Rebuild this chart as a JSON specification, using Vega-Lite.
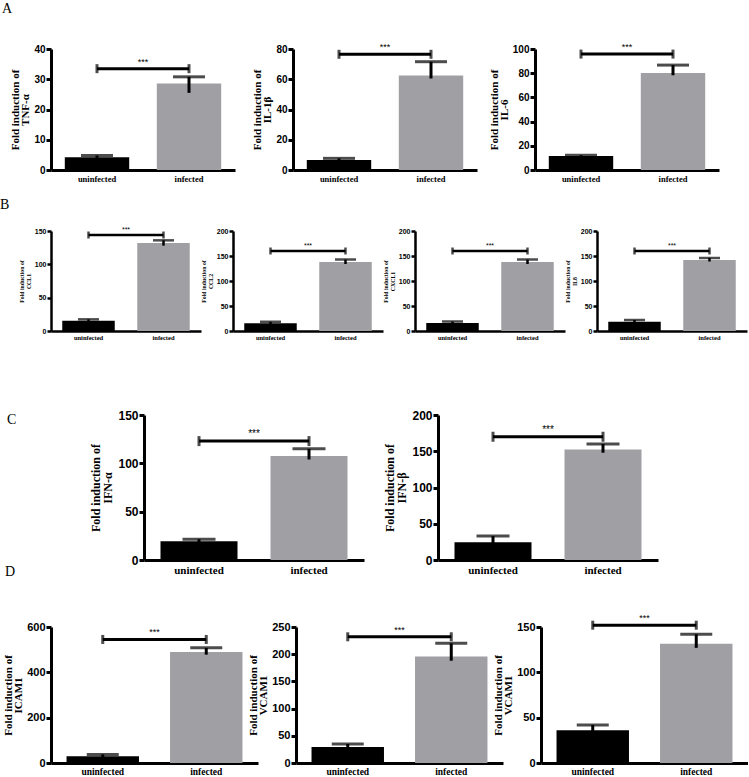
{
"$schema": "https://vega.github.io/schema/vega-lite/v6.json",
"padding": {"left": 0, "top": 2, "right": 0, "bottom": 0},
"background": "white",
"config": {
  "view": {"stroke": null},
  "axis": {"grid": false, "labelOverlap": false, "domainColor": "#000", "tickColor": "#000", "labelColor": "#000", "titleColor": "#000", "labelFontWeight": "bold", "titleFontWeight": "bold", "titleFont": "Liberation Serif"},
  "axisX": {"labelFont": "Liberation Serif", "labelAngle": 0, "ticks": false, "tickSize": 0, "labelPadding": 4, "domainWidth": 3},
  "axisY": {"labelFont": "Liberation Sans", "tickWidth": 3, "tickSize": 5, "domainWidth": 3, "labelPadding": 1, "titlePadding": 3, "labelOverlap": false, "labelFlush": false},
  "title": {"font": "Liberation Serif", "fontWeight": "normal", "fontSize": 14, "anchor": "start", "frame": "group", "color": "#000"}
},
"spacing": 68,
"vconcat": [
 {"spacing": 15, "vconcat": [
  {"hconcat": [
   {"width": 184, "height": 121, "title": {"text": "A", "dx": -49, "offset": 28},
    "data": {"values": [{"g": "uninfected", "v": 4.2, "lo": 3.6, "hi": 4.8}, {"g": "infected", "v": 28.6, "lo": 25.5, "hi": 30.8}]},
    "layer": [
     {"mark": {"type": "bar"}, "encoding": {
       "x": {"field": "g", "type": "nominal", "scale": {"domain": ["uninfected", "infected"], "paddingInner": 0.3, "paddingOuter": 0.15}, "axis": {"title": null, "labelFontSize": 8.5}},
       "y": {"field": "v", "type": "quantitative", "scale": {"domain": [0, 40], "nice": false}, "axis": {"values": [0, 10, 20, 30, 40], "tickCount": 20, "title": ["Fold induction of", "TNF-α"], "labelFontSize": 10, "titleFontSize": 11, "titleLineHeight": 10}},
       "color": {"field": "g", "type": "nominal", "scale": {"domain": ["uninfected", "infected"], "range": ["#000000", "#a0a0a4"]}, "legend": null}}},
     {"mark": {"type": "rule", "strokeWidth": 3, "color": "#000"}, "encoding": {"x": {"field": "g", "type": "nominal"}, "y": {"field": "lo", "type": "quantitative"}, "y2": {"field": "hi"}}},
     {"mark": {"type": "tick", "orient": "horizontal", "thickness": 3, "size": 32, "color": "#000"}, "encoding": {"x": {"field": "g", "type": "nominal"}, "y": {"field": "hi", "type": "quantitative"}}},
     {"data": {"values": [{"a": "uninfected", "b": "infected", "s": 33.5, "t": "***"}]}, "layer": [
       {"mark": {"type": "rule", "strokeWidth": 3, "color": "#000"}, "encoding": {"x": {"field": "a", "type": "nominal"}, "x2": {"field": "b"}, "y": {"field": "s", "type": "quantitative"}}},
       {"mark": {"type": "tick", "orient": "vertical", "thickness": 3, "size": 9, "color": "#000"}, "encoding": {"x": {"field": "a", "type": "nominal"}, "y": {"field": "s", "type": "quantitative"}}},
       {"mark": {"type": "tick", "orient": "vertical", "thickness": 3, "size": 9, "color": "#000"}, "encoding": {"x": {"field": "b", "type": "nominal"}, "y": {"field": "s", "type": "quantitative"}}},
       {"mark": {"type": "text", "font": "Liberation Sans", "fontSize": 9, "baseline": "bottom", "dy": -2, "color": "#000"}, "encoding": {"x": {"field": "a", "type": "nominal", "bandPosition": 1.2143}, "y": {"field": "s", "type": "quantitative"}, "text": {"field": "t"}}}
     ]}
    ]},
   {"width": 184, "height": 121,
    "data": {"values": [{"g": "uninfected", "v": 6.6, "lo": 5.5, "hi": 7.7}, {"g": "infected", "v": 62.5, "lo": 60.5, "hi": 71.6}]},
    "layer": [
     {"mark": {"type": "bar"}, "encoding": {
       "x": {"field": "g", "type": "nominal", "scale": {"domain": ["uninfected", "infected"], "paddingInner": 0.3, "paddingOuter": 0.15}, "axis": {"title": null, "labelFontSize": 8.5}},
       "y": {"field": "v", "type": "quantitative", "scale": {"domain": [0, 80], "nice": false}, "axis": {"values": [0, 20, 40, 60, 80], "tickCount": 20, "title": ["Fold induction of", "IL-1β"], "labelFontSize": 10, "titleFontSize": 11, "titleLineHeight": 10}},
       "color": {"field": "g", "type": "nominal", "scale": {"domain": ["uninfected", "infected"], "range": ["#000000", "#a0a0a4"]}, "legend": null}}},
     {"mark": {"type": "rule", "strokeWidth": 3, "color": "#000"}, "encoding": {"x": {"field": "g", "type": "nominal"}, "y": {"field": "lo", "type": "quantitative"}, "y2": {"field": "hi"}}},
     {"mark": {"type": "tick", "orient": "horizontal", "thickness": 3, "size": 32, "color": "#000"}, "encoding": {"x": {"field": "g", "type": "nominal"}, "y": {"field": "hi", "type": "quantitative"}}},
     {"data": {"values": [{"a": "uninfected", "b": "infected", "s": 76.5, "t": "***"}]}, "layer": [
       {"mark": {"type": "rule", "strokeWidth": 3, "color": "#000"}, "encoding": {"x": {"field": "a", "type": "nominal"}, "x2": {"field": "b"}, "y": {"field": "s", "type": "quantitative"}}},
       {"mark": {"type": "tick", "orient": "vertical", "thickness": 3, "size": 9, "color": "#000"}, "encoding": {"x": {"field": "a", "type": "nominal"}, "y": {"field": "s", "type": "quantitative"}}},
       {"mark": {"type": "tick", "orient": "vertical", "thickness": 3, "size": 9, "color": "#000"}, "encoding": {"x": {"field": "b", "type": "nominal"}, "y": {"field": "s", "type": "quantitative"}}},
       {"mark": {"type": "text", "font": "Liberation Sans", "fontSize": 9, "baseline": "bottom", "dy": -2, "color": "#000"}, "encoding": {"x": {"field": "a", "type": "nominal", "bandPosition": 1.2143}, "y": {"field": "s", "type": "quantitative"}, "text": {"field": "t"}}}
     ]}
    ]},
   {"width": 184, "height": 121,
    "data": {"values": [{"g": "uninfected", "v": 11.5, "lo": 10.8, "hi": 12.2}, {"g": "infected", "v": 80.2, "lo": 78.3, "hi": 86.7}]},
    "layer": [
     {"mark": {"type": "bar"}, "encoding": {
       "x": {"field": "g", "type": "nominal", "scale": {"domain": ["uninfected", "infected"], "paddingInner": 0.3, "paddingOuter": 0.15}, "axis": {"title": null, "labelFontSize": 8.5}},
       "y": {"field": "v", "type": "quantitative", "scale": {"domain": [0, 100], "nice": false}, "axis": {"values": [0, 20, 40, 60, 80, 100], "tickCount": 20, "title": ["Fold induction of", "IL-6"], "labelFontSize": 10, "titleFontSize": 11, "titleLineHeight": 10}},
       "color": {"field": "g", "type": "nominal", "scale": {"domain": ["uninfected", "infected"], "range": ["#000000", "#a0a0a4"]}, "legend": null}}},
     {"mark": {"type": "rule", "strokeWidth": 3, "color": "#000"}, "encoding": {"x": {"field": "g", "type": "nominal"}, "y": {"field": "lo", "type": "quantitative"}, "y2": {"field": "hi"}}},
     {"mark": {"type": "tick", "orient": "horizontal", "thickness": 3, "size": 32, "color": "#000"}, "encoding": {"x": {"field": "g", "type": "nominal"}, "y": {"field": "hi", "type": "quantitative"}}},
     {"data": {"values": [{"a": "uninfected", "b": "infected", "s": 95.8, "t": "***"}]}, "layer": [
       {"mark": {"type": "rule", "strokeWidth": 3, "color": "#000"}, "encoding": {"x": {"field": "a", "type": "nominal"}, "x2": {"field": "b"}, "y": {"field": "s", "type": "quantitative"}}},
       {"mark": {"type": "tick", "orient": "vertical", "thickness": 3, "size": 9, "color": "#000"}, "encoding": {"x": {"field": "a", "type": "nominal"}, "y": {"field": "s", "type": "quantitative"}}},
       {"mark": {"type": "tick", "orient": "vertical", "thickness": 3, "size": 9, "color": "#000"}, "encoding": {"x": {"field": "b", "type": "nominal"}, "y": {"field": "s", "type": "quantitative"}}},
       {"mark": {"type": "text", "font": "Liberation Sans", "fontSize": 9, "baseline": "bottom", "dy": -2, "color": "#000"}, "encoding": {"x": {"field": "a", "type": "nominal", "bandPosition": 1.2143}, "y": {"field": "s", "type": "quantitative"}, "text": {"field": "t"}}}
     ]}
    ]}
  ], "spacing": 58, "bounds": "flush"},
  {"hconcat": [
   {"width": 150, "height": 100, "title": {"text": "B", "dx": -51, "offset": 14},
    "data": {"values": [{"g": "uninfected", "v": 15.5, "lo": 14, "hi": 17.5}, {"g": "infected", "v": 132, "lo": 128, "hi": 136}]},
    "layer": [
     {"mark": {"type": "bar"}, "encoding": {
       "x": {"field": "g", "type": "nominal", "scale": {"domain": ["uninfected", "infected"], "paddingInner": 0.3, "paddingOuter": 0.15}, "axis": {"title": null, "labelFontSize": 6.5, "domainWidth": 2.5, "labelPadding": 3}},
       "y": {"field": "v", "type": "quantitative", "scale": {"domain": [0, 150], "nice": false}, "axis": {"values": [0, 50, 100, 150], "tickCount": 20, "title": ["Fold induction of", "CCL1"], "labelFontSize": 7, "titleFontSize": 5.8, "titleLineHeight": 6.5, "domainWidth": 2.5, "tickWidth": 2.5, "tickSize": 4}},
       "color": {"field": "g", "type": "nominal", "scale": {"domain": ["uninfected", "infected"], "range": ["#000000", "#a0a0a4"]}, "legend": null}}},
     {"mark": {"type": "rule", "strokeWidth": 2.5, "color": "#000"}, "encoding": {"x": {"field": "g", "type": "nominal"}, "y": {"field": "lo", "type": "quantitative"}, "y2": {"field": "hi"}}},
     {"mark": {"type": "tick", "orient": "horizontal", "thickness": 2.5, "size": 21, "color": "#000"}, "encoding": {"x": {"field": "g", "type": "nominal"}, "y": {"field": "hi", "type": "quantitative"}}},
     {"data": {"values": [{"a": "uninfected", "b": "infected", "s": 144, "t": "***"}]}, "layer": [
       {"mark": {"type": "rule", "strokeWidth": 2.5, "color": "#000"}, "encoding": {"x": {"field": "a", "type": "nominal"}, "x2": {"field": "b"}, "y": {"field": "s", "type": "quantitative"}}},
       {"mark": {"type": "tick", "orient": "vertical", "thickness": 2.5, "size": 7, "color": "#000"}, "encoding": {"x": {"field": "a", "type": "nominal"}, "y": {"field": "s", "type": "quantitative"}}},
       {"mark": {"type": "tick", "orient": "vertical", "thickness": 2.5, "size": 7, "color": "#000"}, "encoding": {"x": {"field": "b", "type": "nominal"}, "y": {"field": "s", "type": "quantitative"}}},
       {"mark": {"type": "text", "font": "Liberation Sans", "fontSize": 7, "baseline": "bottom", "dy": -2, "color": "#000"}, "encoding": {"x": {"field": "a", "type": "nominal", "bandPosition": 1.2143}, "y": {"field": "s", "type": "quantitative"}, "text": {"field": "t"}}}
     ]}
    ]},
   {"width": 150, "height": 100,
    "data": {"values": [{"g": "uninfected", "v": 15.5, "lo": 14, "hi": 18.5}, {"g": "infected", "v": 138, "lo": 134, "hi": 143}]},
    "layer": [
     {"mark": {"type": "bar"}, "encoding": {
       "x": {"field": "g", "type": "nominal", "scale": {"domain": ["uninfected", "infected"], "paddingInner": 0.3, "paddingOuter": 0.15}, "axis": {"title": null, "labelFontSize": 6.5, "domainWidth": 2.5, "labelPadding": 3}},
       "y": {"field": "v", "type": "quantitative", "scale": {"domain": [0, 200], "nice": false}, "axis": {"values": [0, 50, 100, 150, 200], "tickCount": 20, "title": ["Fold induction of", "CCL2"], "labelFontSize": 7, "titleFontSize": 5.8, "titleLineHeight": 6.5, "domainWidth": 2.5, "tickWidth": 2.5, "tickSize": 4}},
       "color": {"field": "g", "type": "nominal", "scale": {"domain": ["uninfected", "infected"], "range": ["#000000", "#a0a0a4"]}, "legend": null}}},
     {"mark": {"type": "rule", "strokeWidth": 2.5, "color": "#000"}, "encoding": {"x": {"field": "g", "type": "nominal"}, "y": {"field": "lo", "type": "quantitative"}, "y2": {"field": "hi"}}},
     {"mark": {"type": "tick", "orient": "horizontal", "thickness": 2.5, "size": 21, "color": "#000"}, "encoding": {"x": {"field": "g", "type": "nominal"}, "y": {"field": "hi", "type": "quantitative"}}},
     {"data": {"values": [{"a": "uninfected", "b": "infected", "s": 160, "t": "***"}]}, "layer": [
       {"mark": {"type": "rule", "strokeWidth": 2.5, "color": "#000"}, "encoding": {"x": {"field": "a", "type": "nominal"}, "x2": {"field": "b"}, "y": {"field": "s", "type": "quantitative"}}},
       {"mark": {"type": "tick", "orient": "vertical", "thickness": 2.5, "size": 7, "color": "#000"}, "encoding": {"x": {"field": "a", "type": "nominal"}, "y": {"field": "s", "type": "quantitative"}}},
       {"mark": {"type": "tick", "orient": "vertical", "thickness": 2.5, "size": 7, "color": "#000"}, "encoding": {"x": {"field": "b", "type": "nominal"}, "y": {"field": "s", "type": "quantitative"}}},
       {"mark": {"type": "text", "font": "Liberation Sans", "fontSize": 7, "baseline": "bottom", "dy": -2, "color": "#000"}, "encoding": {"x": {"field": "a", "type": "nominal", "bandPosition": 1.2143}, "y": {"field": "s", "type": "quantitative"}, "text": {"field": "t"}}}
     ]}
    ]},
   {"width": 150, "height": 100,
    "data": {"values": [{"g": "uninfected", "v": 16, "lo": 14.5, "hi": 19}, {"g": "infected", "v": 138, "lo": 134, "hi": 143}]},
    "layer": [
     {"mark": {"type": "bar"}, "encoding": {
       "x": {"field": "g", "type": "nominal", "scale": {"domain": ["uninfected", "infected"], "paddingInner": 0.3, "paddingOuter": 0.15}, "axis": {"title": null, "labelFontSize": 6.5, "domainWidth": 2.5, "labelPadding": 3}},
       "y": {"field": "v", "type": "quantitative", "scale": {"domain": [0, 200], "nice": false}, "axis": {"values": [0, 50, 100, 150, 200], "tickCount": 20, "title": ["Fold induction of", "CXCL1"], "labelFontSize": 7, "titleFontSize": 5.8, "titleLineHeight": 6.5, "domainWidth": 2.5, "tickWidth": 2.5, "tickSize": 4}},
       "color": {"field": "g", "type": "nominal", "scale": {"domain": ["uninfected", "infected"], "range": ["#000000", "#a0a0a4"]}, "legend": null}}},
     {"mark": {"type": "rule", "strokeWidth": 2.5, "color": "#000"}, "encoding": {"x": {"field": "g", "type": "nominal"}, "y": {"field": "lo", "type": "quantitative"}, "y2": {"field": "hi"}}},
     {"mark": {"type": "tick", "orient": "horizontal", "thickness": 2.5, "size": 21, "color": "#000"}, "encoding": {"x": {"field": "g", "type": "nominal"}, "y": {"field": "hi", "type": "quantitative"}}},
     {"data": {"values": [{"a": "uninfected", "b": "infected", "s": 160, "t": "***"}]}, "layer": [
       {"mark": {"type": "rule", "strokeWidth": 2.5, "color": "#000"}, "encoding": {"x": {"field": "a", "type": "nominal"}, "x2": {"field": "b"}, "y": {"field": "s", "type": "quantitative"}}},
       {"mark": {"type": "tick", "orient": "vertical", "thickness": 2.5, "size": 7, "color": "#000"}, "encoding": {"x": {"field": "a", "type": "nominal"}, "y": {"field": "s", "type": "quantitative"}}},
       {"mark": {"type": "tick", "orient": "vertical", "thickness": 2.5, "size": 7, "color": "#000"}, "encoding": {"x": {"field": "b", "type": "nominal"}, "y": {"field": "s", "type": "quantitative"}}},
       {"mark": {"type": "text", "font": "Liberation Sans", "fontSize": 7, "baseline": "bottom", "dy": -2, "color": "#000"}, "encoding": {"x": {"field": "a", "type": "nominal", "bandPosition": 1.2143}, "y": {"field": "s", "type": "quantitative"}, "text": {"field": "t"}}}
     ]}
    ]},
   {"width": 150, "height": 100,
    "data": {"values": [{"g": "uninfected", "v": 18.5, "lo": 16, "hi": 22}, {"g": "infected", "v": 142, "lo": 139, "hi": 146}]},
    "layer": [
     {"mark": {"type": "bar"}, "encoding": {
       "x": {"field": "g", "type": "nominal", "scale": {"domain": ["uninfected", "infected"], "paddingInner": 0.3, "paddingOuter": 0.15}, "axis": {"title": null, "labelFontSize": 6.5, "domainWidth": 2.5, "labelPadding": 3}},
       "y": {"field": "v", "type": "quantitative", "scale": {"domain": [0, 200], "nice": false}, "axis": {"values": [0, 50, 100, 150, 200], "tickCount": 20, "title": ["Fold induction of", "IL8"], "labelFontSize": 7, "titleFontSize": 5.8, "titleLineHeight": 6.5, "domainWidth": 2.5, "tickWidth": 2.5, "tickSize": 4}},
       "color": {"field": "g", "type": "nominal", "scale": {"domain": ["uninfected", "infected"], "range": ["#000000", "#a0a0a4"]}, "legend": null}}},
     {"mark": {"type": "rule", "strokeWidth": 2.5, "color": "#000"}, "encoding": {"x": {"field": "g", "type": "nominal"}, "y": {"field": "lo", "type": "quantitative"}, "y2": {"field": "hi"}}},
     {"mark": {"type": "tick", "orient": "horizontal", "thickness": 2.5, "size": 21, "color": "#000"}, "encoding": {"x": {"field": "g", "type": "nominal"}, "y": {"field": "hi", "type": "quantitative"}}},
     {"data": {"values": [{"a": "uninfected", "b": "infected", "s": 160, "t": "***"}]}, "layer": [
       {"mark": {"type": "rule", "strokeWidth": 2.5, "color": "#000"}, "encoding": {"x": {"field": "a", "type": "nominal"}, "x2": {"field": "b"}, "y": {"field": "s", "type": "quantitative"}}},
       {"mark": {"type": "tick", "orient": "vertical", "thickness": 2.5, "size": 7, "color": "#000"}, "encoding": {"x": {"field": "a", "type": "nominal"}, "y": {"field": "s", "type": "quantitative"}}},
       {"mark": {"type": "tick", "orient": "vertical", "thickness": 2.5, "size": 7, "color": "#000"}, "encoding": {"x": {"field": "b", "type": "nominal"}, "y": {"field": "s", "type": "quantitative"}}},
       {"mark": {"type": "text", "font": "Liberation Sans", "fontSize": 7, "baseline": "bottom", "dy": -2, "color": "#000"}, "encoding": {"x": {"field": "a", "type": "nominal", "bandPosition": 1.2143}, "y": {"field": "s", "type": "quantitative"}, "text": {"field": "t"}}}
     ]}
    ]}
  ], "spacing": 32, "bounds": "flush"}
 ]},
 {"spacing": -10, "vconcat": [
  {"hconcat": [
   {"width": 19, "height": 145, "data": {"values": [{}]}, "mark": {"type": "text"}, "encoding": {}},
   {"width": 220, "height": 145, "title": {"text": "C", "dx": -137, "offset": -18},
    "data": {"values": [{"g": "uninfected", "v": 19.5, "lo": 18, "hi": 21.5}, {"g": "infected", "v": 107.5, "lo": 104, "hi": 115}]},
    "layer": [
     {"mark": {"type": "bar"}, "encoding": {
       "x": {"field": "g", "type": "nominal", "scale": {"domain": ["uninfected", "infected"], "paddingInner": 0.3, "paddingOuter": 0.15}, "axis": {"title": null, "labelFontSize": 11}},
       "y": {"field": "v", "type": "quantitative", "scale": {"domain": [0, 150], "nice": false}, "axis": {"values": [0, 50, 100, 150], "tickCount": 20, "title": ["Fold induction of", "IFN-α"], "labelFontSize": 12, "titleFontSize": 12, "titleLineHeight": 12.5}},
       "color": {"field": "g", "type": "nominal", "scale": {"domain": ["uninfected", "infected"], "range": ["#000000", "#a0a0a4"]}, "legend": null}}},
     {"mark": {"type": "rule", "strokeWidth": 3, "color": "#000"}, "encoding": {"x": {"field": "g", "type": "nominal"}, "y": {"field": "lo", "type": "quantitative"}, "y2": {"field": "hi"}}},
     {"mark": {"type": "tick", "orient": "horizontal", "thickness": 3, "size": 33, "color": "#000"}, "encoding": {"x": {"field": "g", "type": "nominal"}, "y": {"field": "hi", "type": "quantitative"}}},
     {"data": {"values": [{"a": "uninfected", "b": "infected", "s": 123, "t": "***"}]}, "layer": [
       {"mark": {"type": "rule", "strokeWidth": 3, "color": "#000"}, "encoding": {"x": {"field": "a", "type": "nominal"}, "x2": {"field": "b"}, "y": {"field": "s", "type": "quantitative"}}},
       {"mark": {"type": "tick", "orient": "vertical", "thickness": 3, "size": 10, "color": "#000"}, "encoding": {"x": {"field": "a", "type": "nominal"}, "y": {"field": "s", "type": "quantitative"}}},
       {"mark": {"type": "tick", "orient": "vertical", "thickness": 3, "size": 10, "color": "#000"}, "encoding": {"x": {"field": "b", "type": "nominal"}, "y": {"field": "s", "type": "quantitative"}}},
       {"mark": {"type": "text", "font": "Liberation Sans", "fontSize": 10, "baseline": "bottom", "dy": -2, "color": "#000"}, "encoding": {"x": {"field": "a", "type": "nominal", "bandPosition": 1.2143}, "y": {"field": "s", "type": "quantitative"}, "text": {"field": "t"}}}
     ]}
    ]},
   {"width": 220, "height": 145,
    "data": {"values": [{"g": "uninfected", "v": 24.5, "lo": 21, "hi": 33}, {"g": "infected", "v": 152.5, "lo": 148, "hi": 160}]},
    "layer": [
     {"mark": {"type": "bar"}, "encoding": {
       "x": {"field": "g", "type": "nominal", "scale": {"domain": ["uninfected", "infected"], "paddingInner": 0.3, "paddingOuter": 0.15}, "axis": {"title": null, "labelFontSize": 11}},
       "y": {"field": "v", "type": "quantitative", "scale": {"domain": [0, 200], "nice": false}, "axis": {"values": [0, 50, 100, 150, 200], "tickCount": 20, "title": ["Fold induction of", "IFN-β"], "labelFontSize": 12, "titleFontSize": 12, "titleLineHeight": 12.5}},
       "color": {"field": "g", "type": "nominal", "scale": {"domain": ["uninfected", "infected"], "range": ["#000000", "#a0a0a4"]}, "legend": null}}},
     {"mark": {"type": "rule", "strokeWidth": 3, "color": "#000"}, "encoding": {"x": {"field": "g", "type": "nominal"}, "y": {"field": "lo", "type": "quantitative"}, "y2": {"field": "hi"}}},
     {"mark": {"type": "tick", "orient": "horizontal", "thickness": 3, "size": 33, "color": "#000"}, "encoding": {"x": {"field": "g", "type": "nominal"}, "y": {"field": "hi", "type": "quantitative"}}},
     {"data": {"values": [{"a": "uninfected", "b": "infected", "s": 170, "t": "***"}]}, "layer": [
       {"mark": {"type": "rule", "strokeWidth": 3, "color": "#000"}, "encoding": {"x": {"field": "a", "type": "nominal"}, "x2": {"field": "b"}, "y": {"field": "s", "type": "quantitative"}}},
       {"mark": {"type": "tick", "orient": "vertical", "thickness": 3, "size": 10, "color": "#000"}, "encoding": {"x": {"field": "a", "type": "nominal"}, "y": {"field": "s", "type": "quantitative"}}},
       {"mark": {"type": "tick", "orient": "vertical", "thickness": 3, "size": 10, "color": "#000"}, "encoding": {"x": {"field": "b", "type": "nominal"}, "y": {"field": "s", "type": "quantitative"}}},
       {"mark": {"type": "text", "font": "Liberation Sans", "fontSize": 10, "baseline": "bottom", "dy": -2, "color": "#000"}, "encoding": {"x": {"field": "a", "type": "nominal", "bandPosition": 1.2143}, "y": {"field": "s", "type": "quantitative"}, "text": {"field": "t"}}}
     ]}
    ]}
  ], "spacing": 74, "bounds": "flush"},
  {"hconcat": [
   {"width": 207, "height": 136, "title": {"text": "D", "dx": -46, "offset": 42},
    "data": {"values": [{"g": "uninfected", "v": 30, "lo": 26, "hi": 38}, {"g": "infected", "v": 490, "lo": 478, "hi": 508}]},
    "layer": [
     {"mark": {"type": "bar"}, "encoding": {
       "x": {"field": "g", "type": "nominal", "scale": {"domain": ["uninfected", "infected"], "paddingInner": 0.3, "paddingOuter": 0.15}, "axis": {"title": null, "labelFontSize": 9.5, "labelPadding": 3}},
       "y": {"field": "v", "type": "quantitative", "scale": {"domain": [0, 600], "nice": false}, "axis": {"values": [0, 200, 400, 600], "tickCount": 20, "title": ["Fold induction of", "ICAM1"], "labelFontSize": 11, "titleFontSize": 11, "titleLineHeight": 10.5}},
       "color": {"field": "g", "type": "nominal", "scale": {"domain": ["uninfected", "infected"], "range": ["#000000", "#a0a0a4"]}, "legend": null}}},
     {"mark": {"type": "rule", "strokeWidth": 3, "color": "#000"}, "encoding": {"x": {"field": "g", "type": "nominal"}, "y": {"field": "lo", "type": "quantitative"}, "y2": {"field": "hi"}}},
     {"mark": {"type": "tick", "orient": "horizontal", "thickness": 3, "size": 32, "color": "#000"}, "encoding": {"x": {"field": "g", "type": "nominal"}, "y": {"field": "hi", "type": "quantitative"}}},
     {"data": {"values": [{"a": "uninfected", "b": "infected", "s": 545, "t": "***"}]}, "layer": [
       {"mark": {"type": "rule", "strokeWidth": 3, "color": "#000"}, "encoding": {"x": {"field": "a", "type": "nominal"}, "x2": {"field": "b"}, "y": {"field": "s", "type": "quantitative"}}},
       {"mark": {"type": "tick", "orient": "vertical", "thickness": 3, "size": 9, "color": "#000"}, "encoding": {"x": {"field": "a", "type": "nominal"}, "y": {"field": "s", "type": "quantitative"}}},
       {"mark": {"type": "tick", "orient": "vertical", "thickness": 3, "size": 9, "color": "#000"}, "encoding": {"x": {"field": "b", "type": "nominal"}, "y": {"field": "s", "type": "quantitative"}}},
       {"mark": {"type": "text", "font": "Liberation Sans", "fontSize": 9, "baseline": "bottom", "dy": -2, "color": "#000"}, "encoding": {"x": {"field": "a", "type": "nominal", "bandPosition": 1.2143}, "y": {"field": "s", "type": "quantitative"}, "text": {"field": "t"}}}
     ]}
    ]},
   {"width": 207, "height": 136,
    "data": {"values": [{"g": "uninfected", "v": 29.5, "lo": 26, "hi": 35}, {"g": "infected", "v": 196, "lo": 188, "hi": 220}]},
    "layer": [
     {"mark": {"type": "bar"}, "encoding": {
       "x": {"field": "g", "type": "nominal", "scale": {"domain": ["uninfected", "infected"], "paddingInner": 0.3, "paddingOuter": 0.15}, "axis": {"title": null, "labelFontSize": 9.5, "labelPadding": 3}},
       "y": {"field": "v", "type": "quantitative", "scale": {"domain": [0, 250], "nice": false}, "axis": {"values": [0, 50, 100, 150, 200, 250], "tickCount": 20, "title": ["Fold induction of", "VCAM1"], "labelFontSize": 11, "titleFontSize": 11, "titleLineHeight": 10.5}},
       "color": {"field": "g", "type": "nominal", "scale": {"domain": ["uninfected", "infected"], "range": ["#000000", "#a0a0a4"]}, "legend": null}}},
     {"mark": {"type": "rule", "strokeWidth": 3, "color": "#000"}, "encoding": {"x": {"field": "g", "type": "nominal"}, "y": {"field": "lo", "type": "quantitative"}, "y2": {"field": "hi"}}},
     {"mark": {"type": "tick", "orient": "horizontal", "thickness": 3, "size": 32, "color": "#000"}, "encoding": {"x": {"field": "g", "type": "nominal"}, "y": {"field": "hi", "type": "quantitative"}}},
     {"data": {"values": [{"a": "uninfected", "b": "infected", "s": 232, "t": "***"}]}, "layer": [
       {"mark": {"type": "rule", "strokeWidth": 3, "color": "#000"}, "encoding": {"x": {"field": "a", "type": "nominal"}, "x2": {"field": "b"}, "y": {"field": "s", "type": "quantitative"}}},
       {"mark": {"type": "tick", "orient": "vertical", "thickness": 3, "size": 9, "color": "#000"}, "encoding": {"x": {"field": "a", "type": "nominal"}, "y": {"field": "s", "type": "quantitative"}}},
       {"mark": {"type": "tick", "orient": "vertical", "thickness": 3, "size": 9, "color": "#000"}, "encoding": {"x": {"field": "b", "type": "nominal"}, "y": {"field": "s", "type": "quantitative"}}},
       {"mark": {"type": "text", "font": "Liberation Sans", "fontSize": 9, "baseline": "bottom", "dy": -2, "color": "#000"}, "encoding": {"x": {"field": "a", "type": "nominal", "bandPosition": 1.2143}, "y": {"field": "s", "type": "quantitative"}, "text": {"field": "t"}}}
     ]}
    ]},
   {"width": 207, "height": 136,
    "data": {"values": [{"g": "uninfected", "v": 36, "lo": 33, "hi": 42}, {"g": "infected", "v": 131.5, "lo": 127, "hi": 142}]},
    "layer": [
     {"mark": {"type": "bar"}, "encoding": {
       "x": {"field": "g", "type": "nominal", "scale": {"domain": ["uninfected", "infected"], "paddingInner": 0.3, "paddingOuter": 0.15}, "axis": {"title": null, "labelFontSize": 9.5, "labelPadding": 3}},
       "y": {"field": "v", "type": "quantitative", "scale": {"domain": [0, 150], "nice": false}, "axis": {"values": [0, 50, 100, 150], "tickCount": 20, "title": ["Fold induction of", "VCAM1"], "labelFontSize": 11, "titleFontSize": 11, "titleLineHeight": 10.5}},
       "color": {"field": "g", "type": "nominal", "scale": {"domain": ["uninfected", "infected"], "range": ["#000000", "#a0a0a4"]}, "legend": null}}},
     {"mark": {"type": "rule", "strokeWidth": 3, "color": "#000"}, "encoding": {"x": {"field": "g", "type": "nominal"}, "y": {"field": "lo", "type": "quantitative"}, "y2": {"field": "hi"}}},
     {"mark": {"type": "tick", "orient": "horizontal", "thickness": 3, "size": 32, "color": "#000"}, "encoding": {"x": {"field": "g", "type": "nominal"}, "y": {"field": "hi", "type": "quantitative"}}},
     {"data": {"values": [{"a": "uninfected", "b": "infected", "s": 152, "t": "***"}]}, "layer": [
       {"mark": {"type": "rule", "strokeWidth": 3, "color": "#000"}, "encoding": {"x": {"field": "a", "type": "nominal"}, "x2": {"field": "b"}, "y": {"field": "s", "type": "quantitative"}}},
       {"mark": {"type": "tick", "orient": "vertical", "thickness": 3, "size": 9, "color": "#000"}, "encoding": {"x": {"field": "a", "type": "nominal"}, "y": {"field": "s", "type": "quantitative"}}},
       {"mark": {"type": "tick", "orient": "vertical", "thickness": 3, "size": 9, "color": "#000"}, "encoding": {"x": {"field": "b", "type": "nominal"}, "y": {"field": "s", "type": "quantitative"}}},
       {"mark": {"type": "text", "font": "Liberation Sans", "fontSize": 9, "baseline": "bottom", "dy": -2, "color": "#000"}, "encoding": {"x": {"field": "a", "type": "nominal", "bandPosition": 1.2143}, "y": {"field": "s", "type": "quantitative"}, "text": {"field": "t"}}}
     ]}
    ]}
  ], "spacing": 38, "bounds": "flush"}
 ]}
]
}
